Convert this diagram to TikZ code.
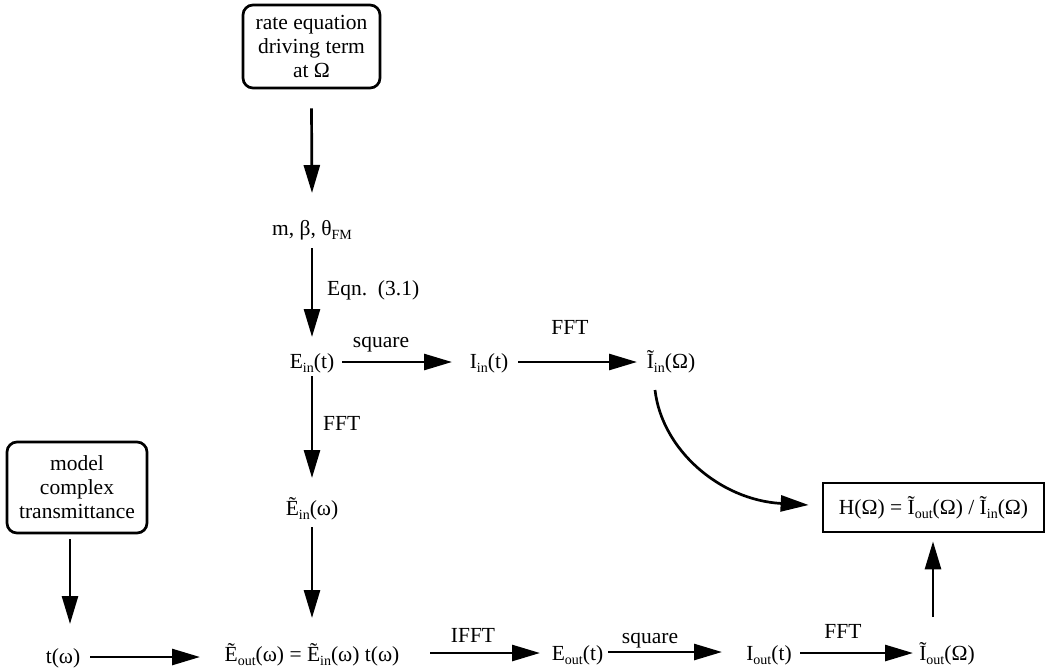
\documentclass[tikz,border=0pt]{standalone}
\usepackage{fontspec}
\setmainfont{Liberation Serif}
\usetikzlibrary{arrows.meta}
\newcommand\mysub[1]{\raisebox{-0.45ex}{\fontsize{14}{14}\selectfont #1}}
\tikzset{
  arr/.style={line width=2.7pt, -{Triangle[length=28pt,width=16pt]}},
  rbox/.style={draw, line width=2.7pt, rounded corners=10pt, align=center, inner sep=2pt},
  sbox/.style={draw, line width=2.7pt, inner sep=2pt},
  txt/.style={anchor=base, inner sep=0pt},
  lbl/.style={anchor=base, inner sep=0pt},
}
\begin{document}
\begin{tikzpicture}[x=1pt, y=-1pt, font=\fontsize{21.5}{24}\selectfont]
\useasboundingbox (0,0) rectangle (1049,670);
% nodes
\node[rbox, minimum width=137pt, minimum height=83pt] (rate) at (311.5,46.5) {rate equation\\driving term\\at Ω};
\node[txt] (mbt) at (312,235) {m, β, θ\mysub{FM}};
\node[txt] (Ein) at (312,368) {E\mysub{in}(t)};
\node[txt] (Iin) at (489,368) {I\mysub{in}(t)};
\node[txt] (IinT) at (671,368) {Ĩ\mysub{in}(Ω)};
\node[txt] (EinW) at (312,515) {Ẽ\mysub{in}(ω)};
\node[rbox, minimum width=140pt, minimum height=91pt] (model) at (77,487.5) {model\\complex\\transmittance};
\node[txt] (tw) at (63,663) {t(ω)};
\node[txt] (Eout) at (312,661) {Ẽ\mysub{out}(ω) = Ẽ\mysub{in}(ω) t(ω)};
\node[txt] (EoutT) at (577.5,660) {E\mysub{out}(t)};
\node[txt] (IoutT) at (769,660) {I\mysub{out}(t)};
\node[txt] (IoutO) at (947,660) {Ĩ\mysub{out}(Ω)};
\node[sbox, minimum width=221pt, minimum height=49pt] (H) at (933.5,507.5) {H(Ω) = Ĩ\mysub{out}(Ω) / Ĩ\mysub{in}(Ω)};
% labels
\node[lbl, anchor=base west] (leqn) at (327,295) {Eqn.~~(3.1)};
\node[lbl] (lsq1) at (381,347) {square};
\node[lbl] (lfft1) at (570,334) {FFT};
\node[lbl, anchor=base west] (lfft2) at (323,430) {FFT};
\node[lbl] (lifft) at (473,642) {IFFT};
\node[lbl] (lsq2) at (650,643) {square};
\node[lbl] (lfft3) at (843,638) {FFT};
% vertical arrows
\draw[arr] ([yshift=-19pt]rate.south) -- ([yshift=42pt]mbt.base);
\draw[arr] ([yshift=-13pt]mbt.base) -- ([yshift=31pt]Ein.base);
\draw[arr] ([yshift=-8pt]Ein.base) -- ([yshift=37pt]EinW.base);
\draw[arr] ([yshift=-12pt]EinW.base) -- ([yshift=43pt]Eout.base);
\draw[arr] ([xshift=-7pt,yshift=-5pt]model.south) -- ([xshift=7pt,yshift=39pt]tw.base);
\draw[arr] ([xshift=-14pt,yshift=43pt]IoutO.base) -- ([xshift=-0.5pt,yshift=-8pt]H.south);
% horizontal arrows
\draw[arr] ([xshift=30pt,yshift=6pt]Ein.base) -- ([xshift=-37pt,yshift=6pt]Iin.base);
\draw[arr] ([xshift=29pt,yshift=6pt]Iin.base) -- ([xshift=-34pt,yshift=6pt]IinT.base);
\draw[arr] ([xshift=27pt,yshift=6pt]tw.base) -- ([xshift=-112pt,yshift=4pt]Eout.base);
\draw[arr] ([xshift=118pt,yshift=8pt]Eout.base) -- ([xshift=-37.5pt,yshift=7pt]EoutT.base);
\draw[arr] ([xshift=30.5pt,yshift=8pt]EoutT.base) -- ([xshift=-47pt,yshift=8pt]IoutT.base);
\draw[arr] ([xshift=31pt,yshift=7pt]IoutT.base) -- ([xshift=-34pt,yshift=7pt]IoutO.base);
% curved arrow
\draw[arr] ([xshift=-16pt,yshift=-22pt]IinT.base) .. controls (662,450) and (720,500) .. ([xshift=-13pt,yshift=2.5pt]H.west);
\end{tikzpicture}
\end{document}
